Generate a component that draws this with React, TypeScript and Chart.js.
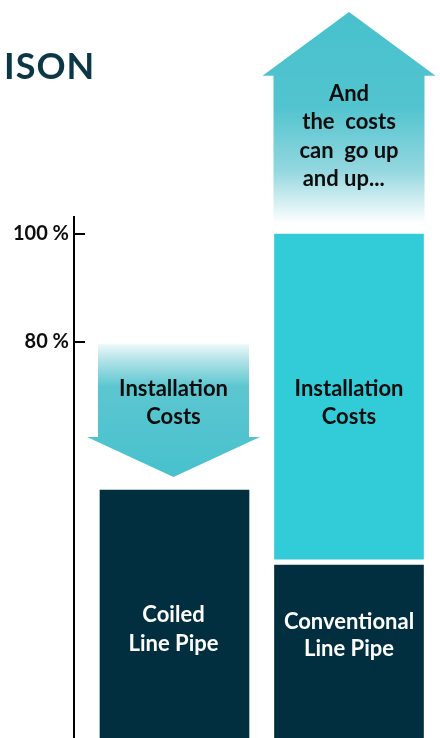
import React, { useEffect, useRef } from "react";
import { Chart, registerables } from "chart.js";

Chart.register(...registerables);

// ---- data ----
const categories = ["Coiled Line Pipe", "Conventional Line Pipe"];
const categoryPos = [1, 2];
const pipeCost = [52.6, 38.7];
const installFrom = [null, 39.8];
const installTo = [null, 100];
const yTicks = [80, 100];
const yTickLabels = ["80 %", "100 %"];
// arrow: [start of shaft, base of head, tip] in % units
const downArrow = [79.6, 62.4, 55.0];
const upArrow = [102.0, 129.3, 141.1];
const pipeLabels = [["Coiled", "Line Pipe"], ["Conventional", "Line Pipe"]];
const installLabel = ["Installation", "Costs"];
const upArrowText = ["And", "the  costs", "can  go up", "and up...\u00a0\u00a0"];
const titleText = "ISON";

const NAVY = "#022f3f";
const CYAN = "#31ccd8";
const TEAL = "#47c1cd";
const FONT = "Lato, 'Open Sans', sans-serif";

const overlay = {
  id: "overlay",
  afterDraw(chart: any) {
    const ctx: CanvasRenderingContext2D = chart.ctx;
    const xs = chart.scales.x;
    const ys = chart.scales.y;
    const left = chart.chartArea.left;
    ctx.save();

    // inner tick marks
    ctx.strokeStyle = "#000";
    ctx.lineWidth = 2;
    yTicks.forEach((v) => {
      const y = Math.round(ys.getPixelForValue(v));
      ctx.beginPath();
      ctx.moveTo(left, y);
      ctx.lineTo(left + 11, y);
      ctx.stroke();
    });

    const shaftHalf = 75.5;
    const headHalf = 86.5;

    // down arrow over coiled
    {
      const cx = xs.getPixelForValue(categoryPos[0]) - 1;
      const y0 = ys.getPixelForValue(downArrow[0]);
      const y1 = ys.getPixelForValue(downArrow[1]);
      const y2 = ys.getPixelForValue(downArrow[2]);
      const g = ctx.createLinearGradient(0, y0, 0, y2);
      g.addColorStop(0, "#eef9fa");
      g.addColorStop(0.12, "#b2e3e8");
      g.addColorStop(0.32, "#5cc6d0");
      g.addColorStop(1, TEAL);
      ctx.fillStyle = g;
      ctx.beginPath();
      ctx.moveTo(cx - shaftHalf, y0);
      ctx.lineTo(cx + shaftHalf, y0);
      ctx.lineTo(cx + shaftHalf, y1);
      ctx.lineTo(cx + headHalf, y1);
      ctx.lineTo(cx, y2);
      ctx.lineTo(cx - headHalf, y1);
      ctx.lineTo(cx - shaftHalf, y1);
      ctx.closePath();
      ctx.fill();
    }

    // up arrow over conventional
    {
      const cx = xs.getPixelForValue(categoryPos[1]);
      const y0 = ys.getPixelForValue(upArrow[0]);
      const y1 = ys.getPixelForValue(upArrow[1]);
      const y2 = ys.getPixelForValue(upArrow[2]);
      const g = ctx.createLinearGradient(0, y2, 0, y0);
      g.addColorStop(0, TEAL);
      g.addColorStop(0.45, "#52c4cf");
      g.addColorStop(0.75, "#93d7df");
      g.addColorStop(0.9, "#d3eff2");
      g.addColorStop(1, "#ffffff");
      ctx.fillStyle = g;
      ctx.beginPath();
      ctx.moveTo(cx - shaftHalf, y0);
      ctx.lineTo(cx - shaftHalf, y1);
      ctx.lineTo(cx - headHalf, y1);
      ctx.lineTo(cx, y2);
      ctx.lineTo(cx + headHalf, y1);
      ctx.lineTo(cx + shaftHalf, y1);
      ctx.lineTo(cx + shaftHalf, y0);
      ctx.closePath();
      ctx.fill();
    }

    ctx.textAlign = "center";
    ctx.textBaseline = "middle";
    ctx.font = `bold 22px ${FONT}`;

    // up arrow text
    ctx.fillStyle = "#0d0d0d";
    const ux = xs.getPixelForValue(categoryPos[1]);
    upArrowText.forEach((t, i) => ctx.fillText(t, ux, 94 + i * 28.4));

    // installation labels
    const c0 = xs.getPixelForValue(categoryPos[0]) - 1;
    const c1 = xs.getPixelForValue(categoryPos[1]);
    installLabel.forEach((t, i) => {
      ctx.fillText(t, c0, 389 + i * 28);
      ctx.fillText(t, c1, 389 + i * 28);
    });

    // pipe labels
    ctx.fillStyle = "#ffffff";
    pipeLabels[0].forEach((t, i) => ctx.fillText(t, c0, 615 + i * 29));
    pipeLabels[1].forEach((t, i) => ctx.fillText(t, c1, 622 + i * 27));

    // title
    ctx.textAlign = "left";
    ctx.textBaseline = "alphabetic";
    ctx.fillStyle = "#0b3747";
    ctx.font = `bold 36px ${FONT}`;
    (ctx as any).letterSpacing = "1px";
    ctx.fillText(titleText, 4, 79);
    (ctx as any).letterSpacing = "0px";

    ctx.restore();
  },
};

export default function App() {
  const ref = useRef<HTMLCanvasElement | null>(null);
  useEffect(() => {
    document.body.style.margin = "0";
    document.body.style.overflow = "hidden";
    if (!ref.current) return;
    const chart = new Chart(ref.current, {
      type: "bar",
      data: {
        datasets: [
          {
            label: "Pipe",
            data: categoryPos.map((x, i) => ({ x, y: [0, pipeCost[i]] })) as any,
            backgroundColor: NAVY,
            barThickness: 149,
            grouped: false,
            borderWidth: 0,
          } as any,
          {
            label: "Installation Costs",
            data: categoryPos
              .map((x, i) => (installFrom[i] == null ? null : { x, y: [installFrom[i], installTo[i]] }))
              .filter((d) => d) as any,
            backgroundColor: CYAN,
            barThickness: 149,
            grouped: false,
            borderWidth: 0,
          } as any,
        ],
      },
      options: {
        animation: false,
        responsive: false,
        devicePixelRatio: 1,
        layout: { padding: { top: 217, left: 0, right: 0, bottom: 0 } },
        plugins: { legend: { display: false }, tooltip: { enabled: false }, title: { display: false } },
        scales: {
          x: {
            type: "linear",
            offset: false,
            min: 0.4241,
            max: 2.5215,
            display: false,
          },
          y: {
            min: 6.67,
            max: 103.15,
            afterFit: (s: any) => {
              s.width = 74;
              s.paddingTop = 0;
              s.paddingBottom = 0;
            },
            afterBuildTicks: (s: any) => {
              s.ticks = yTicks.map((v) => ({ value: v }));
            },
            border: { display: true, color: "#000", width: 2 },
            grid: { display: true, drawOnChartArea: false, drawTicks: false, color: "rgba(0,0,0,0)" },
            ticks: {
              padding: 5,
              color: "#0d0d0d",
              font: { family: FONT, size: 20, weight: "bold" },
              callback: (v: any) => yTickLabels[yTicks.indexOf(Number(v))] ?? "",
            },
          },
        },
      },
      plugins: [overlay],
    } as any);
    return () => chart.destroy();
  }, []);
  return (
    <div style={{ width: 440, height: 738, position: "relative", background: "#fff" }}>
      <canvas ref={ref} width={440} height={738} style={{ width: 440, height: 738, display: "block" }} />
    </div>
  );
}
